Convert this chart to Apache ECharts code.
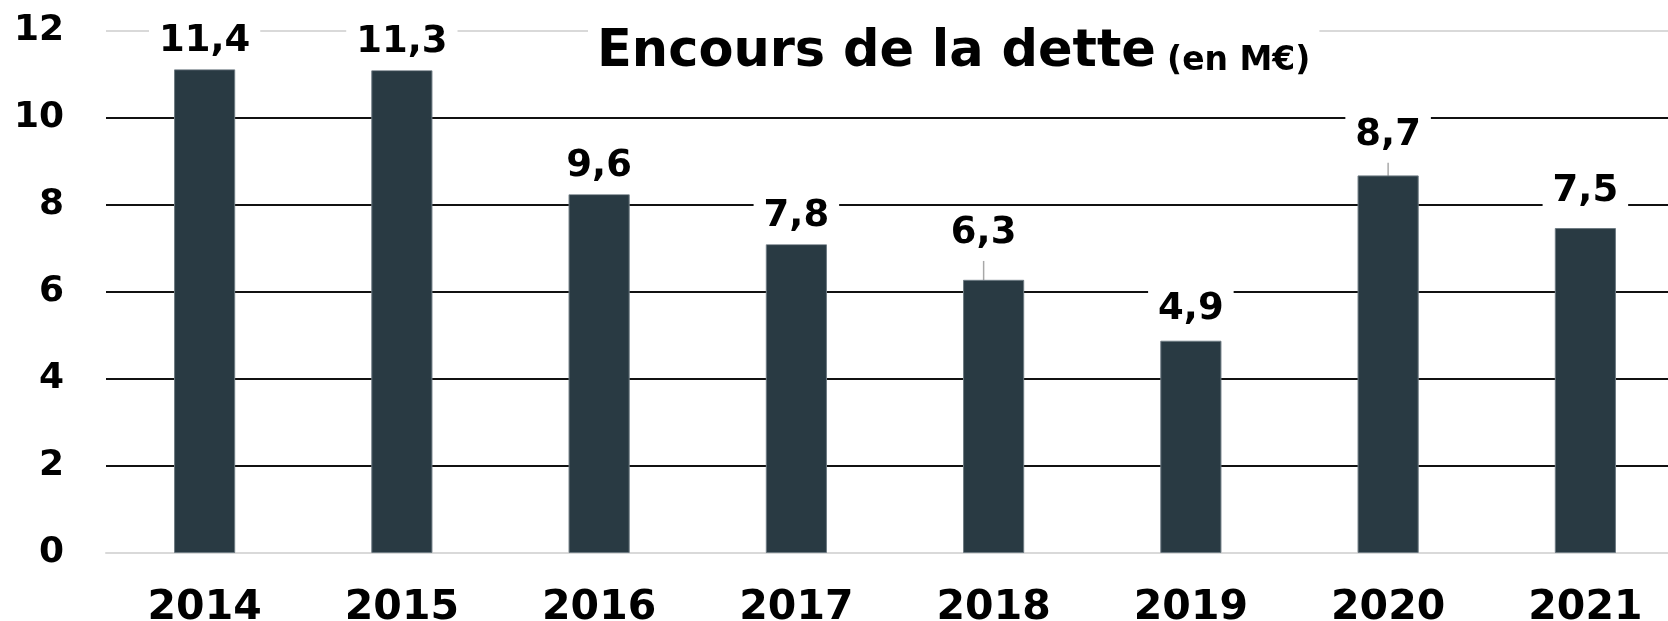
<!DOCTYPE html>
<html lang="fr">
<head>
<meta charset="utf-8">
<title>Encours de la dette</title>
<script src="https://cdn.jsdelivr.net/npm/echarts@6/dist/echarts.min.js"></script>
<style>
  html, body { margin: 0; padding: 0; background: #fff; }
  #chart { width: 1668px; height: 621px; }
</style>
</head>
<body>
<div id="chart"></div>
<script>
// années
const years = ['2014', '2015', '2016', '2017', '2018', '2019', '2020', '2021']
const barValues = [11.12, 11.1, 8.25, 7.1, 6.28, 4.88, 8.68, 7.47]
// étiquettes affichées au-dessus des barres
const barLabels = ['11,4', '11,3', '9,6', '7,8', '6,3', '4,9', '8,7', '7,5']
const yTicks = [0, 2, 4, 6, 8, 10, 12]

const FONT = 'DejaVu Sans'

// décalage des étiquettes déplacées (px), et celles qui ont un trait de rappel
const labelShift = { 4: [-10, -19], 5: [0, -4], 6: [0, -13], 7: [0, -9] }
const withLeader = [4, 6]

const chart = echarts.init(document.getElementById('chart'), null, { renderer: 'canvas' })

chart.setOption({
  animation: false,
  backgroundColor: '#fff',
  title: {
    text: '{a|Encours de la dette} {b|(en M€)}',
    left: 588,
    top: 16,
    padding: [2, 9],
    backgroundColor: '#fff',
    textStyle: {
      fontFamily: FONT,
      fontWeight: 'bold',
      fontSize: 32,
      color: '#000',
      rich: {
        a: { fontFamily: FONT, fontWeight: 'bold', fontSize: 51, lineHeight: 60, color: '#000', verticalAlign: 'bottom' },
        b: { fontFamily: FONT, fontWeight: 'bold', fontSize: 33, lineHeight: 60, color: '#000', verticalAlign: 'bottom' }
      }
    }
  },
  // la dernière catégorie déborde à droite de l'image
  grid: {
    left: 106,
    width: 1578,
    top: 31,
    bottom: 68,
    containLabel: false,
    outerBoundsMode: 'none'
  },
  xAxis: {
    type: 'category',
    data: years,
    axisTick: { show: false },
    axisLine: { lineStyle: { color: '#d9d9d9', width: 2 } },
    axisLabel: {
      fontFamily: FONT,
      fontWeight: 'bold',
      fontSize: 41,
      color: '#000',
      margin: 35
    }
  },
  yAxis: {
    type: 'value',
    min: yTicks[0],
    max: yTicks[yTicks.length - 1],
    interval: yTicks[1] - yTicks[0],
    axisLine: { show: false },
    axisTick: { show: false },
    axisLabel: {
      fontFamily: FONT,
      fontWeight: 'bold',
      fontSize: 36,
      color: '#000',
      margin: 42
    },
    splitLine: {
      lineStyle: {
        color: ['#d9d9d9', '#111', '#111', '#111', '#111', '#111', '#d9d9d9'],
        width: 2
      }
    }
  },
  series: [
    {
      type: 'bar',
      barWidth: '31%',
      data: barValues.map((v, i) => ({
        value: v,
        labelLine: { show: withLeader.includes(i) }
      })),
      itemStyle: {
        color: '#293a43',
        borderColor: '#6d7a82',
        borderWidth: 1
      },
      label: {
        show: true,
        position: 'top',
        distance: 0,
        formatter: (p) => barLabels[p.dataIndex],
        fontFamily: FONT,
        fontWeight: 'bold',
        fontSize: 37,
        lineHeight: 37,
        color: '#000',
        backgroundColor: '#fff',
        padding: [4, 10, 9, 10]
      },
      labelLine: {
        show: false,
        lineStyle: { color: '#a8a8a8', width: 1.5 }
      },
      labelLayout: (p) => {
        const s = labelShift[p.dataIndex]
        return s ? { dx: s[0], dy: s[1] } : {}
      }
    }
  ]
})
</script>
</body>
</html>
